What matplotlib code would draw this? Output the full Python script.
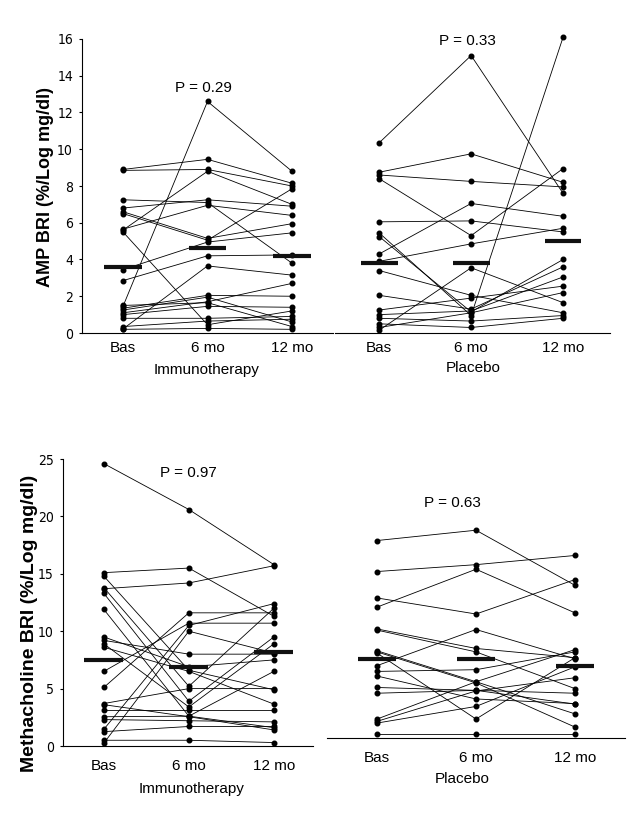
import matplotlib
matplotlib.use("Agg")
import matplotlib.pyplot as plt
from matplotlib import font_manager

# Категорії (часові точки)
timepoints = ["Bas", "6 mo", "12 mo"]

# AMP BRI, імунотерапія: [Bas, 6 mo, 12 mo] для кожного пацієнта
imm_amp = [
    [8.9, 9.45, 8.15], [8.85, 8.9, 8.0], [7.25, 7.1, 3.8], [6.8, 7.25, 6.9],
    [6.6, 5.15, 5.95], [6.5, 5.05, 7.85], [5.65, 6.95, 6.4], [5.6, 8.8, 7.0],
    [5.5, 0.45, 1.2], [3.45, 4.95, 5.45], [2.85, 4.2, 4.25], [1.45, 12.6, 8.8],
    [0.22, 3.65, 3.15], [1.35, 2.05, 2.0], [1.25, 1.95, 0.6], [1.1, 1.7, 2.7],
    [1.0, 1.45, 1.4], [0.8, 0.8, 0.9], [0.35, 0.65, 0.75], [0.2, 0.25, 0.2],
    [1.5, 1.65, 0.35],
]
imm_amp_mean = [3.6, 4.6, 4.2]

# AMP BRI, плацебо
pla_amp = [
    [10.35, 15.1, 7.6], [8.75, 9.75, 8.2], [8.6, 8.25, 7.95], [8.4, 5.3, 8.95],
    [6.05, 6.1, 5.5], [5.45, 0.95, 16.1], [5.25, 1.15, 4.0], [4.3, 7.05, 6.35],
    [3.9, 4.85, 5.7], [3.4, 2.05, 1.1], [2.05, 1.3, 3.6], [1.25, 1.9, 2.55],
    [1.0, 1.2, 3.05], [0.8, 0.65, 0.95], [0.5, 0.3, 0.8], [0.15, 3.55, 1.65],
    [0.3, 1.1, 2.2],
]
pla_amp_mean = [3.8, 3.8, 5.0]

# Methacholine BRI, імунотерапія
imm_mch = [
    [24.6, 20.6, 15.8], [15.1, 15.5, 11.3], [13.7, 14.2, 15.7], [14.8, 6.6, 4.9],
    [13.3, 3.9, 9.5], [11.9, 2.6, 6.5], [13.8, 5.2, 12.0], [9.5, 6.9, 7.5],
    [9.2, 8.0, 8.0], [8.9, 3.4, 8.9], [8.6, 6.5, 3.65], [6.5, 10.7, 10.7],
    [5.1, 11.6, 11.6], [3.7, 5.0, 5.0], [3.1, 3.1, 3.1], [2.55, 2.6, 1.6],
    [2.3, 2.2, 2.1], [1.45, 10.5, 12.4], [1.25, 1.7, 1.7], [0.5, 0.5, 0.3],
    [0.25, 10.0, 8.1], [3.6, 2.55, 1.4],
]
imm_mch_mean = [7.5, 6.9, 8.15]

# Methacholine BRI, плацебо
pla_mch = [
    [17.2, 18.1, 13.3], [14.5, 15.1, 15.9], [12.2, 10.8, 13.8], [11.4, 14.7, 10.9],
    [9.5, 7.8, 7.0], [9.4, 7.5, 4.3], [7.6, 4.9, 2.1], [7.5, 4.8, 0.95],
    [7.4, 1.65, 7.0], [6.3, 9.45, 6.9], [5.8, 5.95, 7.5], [5.4, 3.4, 3.0],
    [4.4, 4.15, 2.95], [3.9, 4.15, 3.9], [1.65, 4.9, 7.7], [1.45, 4.1, 5.25],
    [1.3, 2.75, 6.2], [0.35, 0.35, 0.35],
]
pla_mch_mean = [6.9, 6.9, 6.25]

p_values = ["P = 0.29", "P = 0.33", "P = 0.97", "P = 0.63"]
groups = ["Immunotherapy", "Placebo", "Immunotherapy", "Placebo"]

W, H = 632, 813
fig = plt.figure(figsize=(W / 100, H / 100), dpi=100)
fig.patch.set_facecolor("white")

TXT = "Liberation Sans"


# Вузький шрифт для чисел на осі Y (якщо такий є)
def find_narrow():
    for f in font_manager.fontManager.ttflist:
        name = f.name.lower()
        if f.style != "normal" or f.weight not in (400, "normal", "regular"):
            continue
        if "narrow" in name or "condensed" in name or str(f.stretch) in ("condensed", "semi-condensed"):
            return font_manager.FontProperties(fname=f.fname, size=10)
    return font_manager.FontProperties(family=TXT, size=10)


NARROW = find_narrow()


def box(left, top, right, bottom):
    return fig.add_axes([left / W, 1 - bottom / H, (right - left) / W, (bottom - top) / H])


def put(x, y, s, **kw):
    fig.text(x / W, 1 - y / H, s, family=TXT, **kw)


def draw_panel(ax, data, means, ylim, xlim, yticks, half, label_pad):
    xs = list(range(len(timepoints)))
    for row in data:
        ax.plot(xs, row, color="black", lw=0.6, marker="o", ms=3.3,
                mfc="black", mec="black", clip_on=False, zorder=3)
    for x, m in zip(xs, means):
        ax.plot([x - half, x + half], [m, m], color="#111111", lw=3.0,
                solid_capstyle="butt", zorder=4, clip_on=False)
    ax.set_xlim(*xlim)
    ax.set_ylim(*ylim)
    ax.set_xticks(xs)
    ax.set_xticklabels(timepoints, family=TXT, fontsize=11)
    ax.tick_params(axis="x", length=0, pad=label_pad)
    for side in ["top", "right"]:
        ax.spines[side].set_visible(False)
    ax.spines["bottom"].set_linewidth(0.8)
    if yticks is None:
        ax.spines["left"].set_visible(False)
        ax.set_yticks([])
    else:
        ax.spines["left"].set_linewidth(0.8)
        ax.set_yticks(yticks)
        ax.set_yticklabels([str(t) for t in yticks], fontproperties=NARROW)
        ax.tick_params(axis="y", length=2.5, width=0.8, direction="out", pad=4)
    ax.set_facecolor("none")


# Верхній ряд: AMP
ax1 = box(82, 39, 333, 333)
draw_panel(ax1, imm_amp, imm_amp_mean, (0, 16), (-0.485, 2.485), list(range(0, 17, 2)), 0.22, 6)
ax2 = box(335, 39, 610, 333)
draw_panel(ax2, pla_amp, pla_amp_mean, (0, 16), (-0.48, 2.51), None, 0.2, 6)

# Нижній ряд: Methacholine
ax3 = box(63, 459, 313, 746)
draw_panel(ax3, imm_mch, imm_mch_mean, (0, 25), (-0.48, 2.46), list(range(0, 26, 5)), 0.23, 9)
ax4 = box(327, 451, 625, 738)
draw_panel(ax4, pla_mch, pla_mch_mean, (0, 25), (-0.505, 2.505), None, 0.19, 9)

# Підписи осей Y
put(46, 187, "AMP BRI (%/Log mg/dl)", rotation=90, ha="center", va="center",
    fontsize=13, fontweight="bold")
put(30, 623, "Methacholine BRI (%/Log mg/dl)", rotation=90, ha="center", va="center",
    fontsize=14, fontweight="bold")

# P-значення
for (x, y), s in zip([(203, 92), (467, 45), (188, 477), (452, 507)], p_values):
    put(x, y, s, ha="center", va="baseline", fontsize=11)

# Назви груп
for (x, y), s in zip([(207, 374), (473, 372), (192, 793), (462, 783)], groups):
    put(x, y, s, ha="center", va="baseline", fontsize=11)

plt.savefig("out.png", dpi=100, facecolor="white")
